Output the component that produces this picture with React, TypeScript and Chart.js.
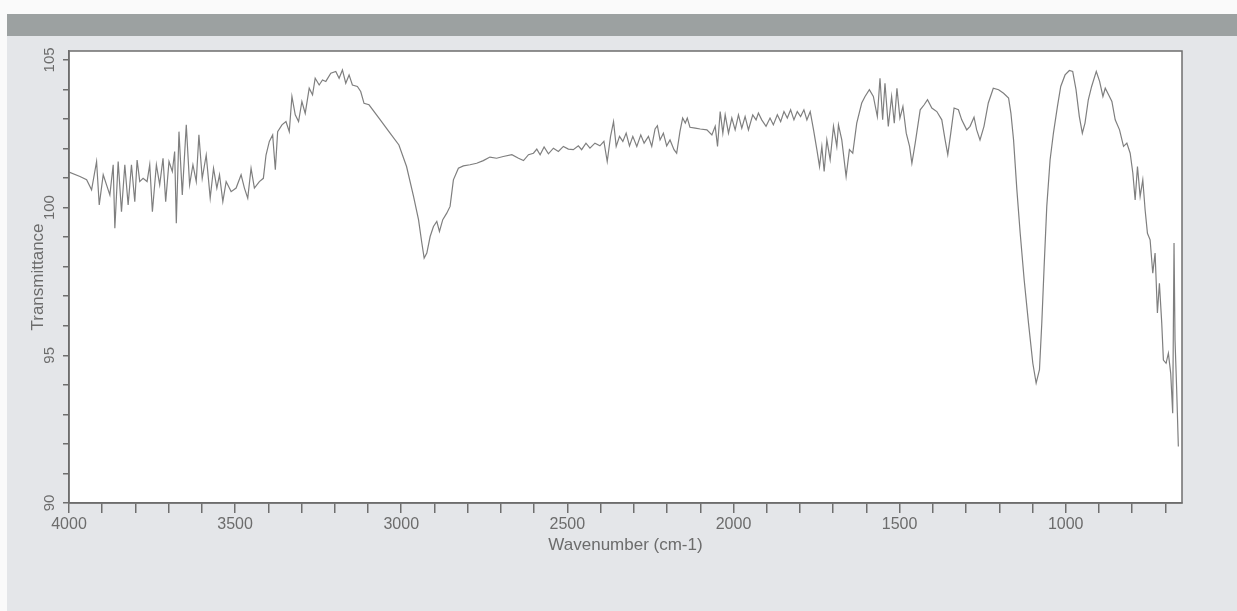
import React, { useEffect, useRef } from "react";
import { Chart, registerables } from "chart.js";

Chart.register(...registerables);

const wavenumbers: number[] = [
  4000, 3967, 3947, 3932, 3917, 3909, 3897, 3887, 3877, 3867, 3862, 3852, 3842, 3832, 3822, 3812, 3802, 3795,
  3787, 3777, 3765, 3757, 3749, 3737, 3727, 3717, 3709, 3699, 3689, 3682, 3677, 3669, 3659, 3647, 3637, 3627,
  3617, 3609, 3599, 3587, 3575, 3565, 3555, 3547, 3537, 3527, 3512, 3497, 3482, 3472, 3462, 3452, 3442, 3427,
  3415, 3407, 3397, 3387, 3379, 3372, 3359, 3347, 3337, 3329, 3319, 3309, 3299, 3289, 3277, 3267, 3259, 3247,
  3237, 3227, 3212, 3197, 3187, 3177, 3167, 3157, 3147, 3132, 3122, 3112, 3097, 3067, 3037, 3007,
  2984, 2963, 2948, 2938, 2931, 2923, 2913, 2903, 2893, 2885, 2875, 2863, 2853, 2843, 2828, 2813, 2793, 2773,
  2753, 2733, 2713, 2693, 2667, 2647, 2632, 2617, 2602, 2592, 2582, 2570, 2557, 2542, 2527, 2512, 2497, 2482,
  2467, 2457, 2444, 2432, 2417, 2402, 2390, 2380, 2370, 2361, 2353, 2343, 2333, 2323, 2313, 2303, 2291, 2279,
  2269, 2256, 2246, 2236, 2229, 2221, 2211, 2201, 2191, 2179, 2171, 2161, 2153, 2145, 2139, 2131, 2115, 2100,
  2080, 2065, 2055, 2048, 2040, 2032, 2025, 2015, 2005, 1995, 1985, 1975, 1965, 1955, 1942, 1932, 1925, 1915,
  1902, 1890, 1880, 1868, 1858, 1848, 1838, 1828, 1818, 1808, 1798, 1788, 1779, 1769, 1759, 1749,
  1741, 1734, 1727, 1719, 1709, 1699, 1689, 1684, 1674, 1661, 1651, 1641, 1629, 1614, 1604, 1591, 1579, 1567,
  1559, 1551, 1544, 1534, 1524, 1516, 1508, 1499, 1490, 1480, 1470, 1463, 1453, 1438, 1426, 1416, 1403, 1388,
  1373, 1363, 1355, 1346, 1336, 1323, 1313, 1298, 1288, 1276, 1268, 1258, 1246, 1233, 1218, 1202, 1187, 1172,
  1165, 1157, 1147, 1137, 1125, 1112, 1099, 1089, 1079, 1072, 1065, 1057, 1047, 1037, 1025, 1015, 1002, 989,
  979, 969, 959, 950, 942, 932, 922, 908, 898, 888, 881, 871, 861, 851, 838, 826, 816, 806, 798, 791, 784, 776,
  768, 761, 754, 746, 738, 731, 724, 718, 711, 706, 698, 691, 684, 678, 674, 671, 666, 661,
];

const transmittance: number[] = [
  101.2, 101.05, 100.94, 100.6, 101.56, 100.09, 101.11, 100.77, 100.43, 101.45, 99.3, 101.56, 99.86, 101.45, 100.09, 101.45, 100.2, 101.61,
  100.88, 100.99, 100.88, 101.45, 99.86, 101.45, 100.77, 101.67, 100.2, 101.56, 101.22, 101.9, 99.47, 102.57, 100.43, 102.8, 100.77, 101.45,
  100.88, 102.46, 100.99, 101.78, 100.32, 101.33, 100.66, 101.11, 100.2, 100.88, 100.54, 100.66, 101.11, 100.66, 100.32, 101.33, 100.66, 100.88,
  100.99, 101.78, 102.24, 102.46, 101.28, 102.57, 102.8, 102.91, 102.57, 103.76, 103.14, 102.91, 103.59, 103.19, 104.04, 103.82, 104.38, 104.15,
  104.32, 104.27, 104.55, 104.61, 104.38, 104.66, 104.21, 104.49, 104.15, 104.1, 103.93, 103.53, 103.48, 103.03, 102.57, 102.12,
  101.39, 100.38, 99.59, 98.8, 98.29, 98.46, 99.02, 99.36, 99.53, 99.19, 99.59, 99.81, 100.04, 100.94, 101.33, 101.41, 101.45, 101.5,
  101.59, 101.71, 101.67, 101.73, 101.79, 101.67, 101.59, 101.79, 101.84, 101.98, 101.79, 102.05, 101.82, 102.01, 101.9, 102.07, 101.98, 101.96,
  102.09, 101.96, 102.18, 102.01, 102.18, 102.09, 102.24, 101.56, 102.41, 102.91, 102.07, 102.41, 102.24, 102.52, 102.09, 102.41, 102.07, 102.46,
  102.18, 102.41, 102.07, 102.66, 102.77, 102.29, 102.52, 102.09, 102.29, 101.96, 101.84, 102.58, 103.03, 102.86, 103.03, 102.72, 102.69, 102.66,
  102.63, 102.46, 102.75, 102.07, 103.25, 102.52, 103.14, 102.52, 103.03, 102.63, 103.14, 102.69, 103.08, 102.63, 103.14, 102.97, 103.2, 102.97,
  102.75, 103.03, 102.8, 103.14, 102.91, 103.25, 103.03, 103.31, 102.97, 103.25, 103.08, 103.31, 102.97, 103.25, 102.63, 101.96,
  101.39, 102.07, 101.22, 102.29, 101.62, 102.75, 102.07, 102.8, 102.29, 101.05, 101.96, 101.84, 102.86, 103.54, 103.76, 103.99, 103.76, 103.08,
  104.38, 102.97, 104.21, 102.75, 103.76, 102.86, 104.04, 103.03, 103.42, 102.52, 102.07, 101.5, 102.18, 103.31, 103.48, 103.65, 103.37, 103.25,
  102.97, 102.29, 101.79, 102.52, 103.37, 103.31, 102.97, 102.63, 102.75, 103.06, 102.63, 102.29, 102.75, 103.54, 104.04, 103.99, 103.87, 103.71,
  103.2, 102.29, 100.6, 99.13, 97.55, 96.09, 94.73, 94.06, 94.51, 96.09, 98.0, 100.04, 101.62, 102.52, 103.42, 104.1, 104.49, 104.64,
  104.61, 103.99, 103.08, 102.52, 102.86, 103.65, 104.1, 104.61, 104.27, 103.76, 104.04, 103.82, 103.59, 102.97, 102.63, 102.07, 102.18, 101.84, 101.17, 100.26, 101.39, 100.38,
  100.94, 99.92, 99.13, 98.91, 97.78, 98.46, 96.43, 97.44, 96.09, 94.84, 94.73, 95.07, 94.39, 93.04, 98.8, 95.52, 93.83, 91.91,
];

const xTickValues: number[] = [
  4000, 3900, 3800, 3700, 3600, 3500, 3400, 3300, 3200, 3100, 3000, 2900, 2800, 2700, 2600, 2500, 2400, 2300,
  2200, 2100, 2000, 1900, 1800, 1700, 1600, 1500, 1400, 1300, 1200, 1100, 1000, 900, 800, 700,
];
const xLabelValues: number[] = [4000, 3500, 3000, 2500, 2000, 1500, 1000];
const yTickValues: number[] = [90, 91, 92, 93, 94, 95, 96, 97, 98, 99, 100, 101, 102, 103, 104, 105];
const yLabelValues: number[] = [90, 95, 100, 105];

const FONT = "'Liberation Sans', Arial, sans-serif";
const TEXT = "#6c6c6c";
const AXIS = "#6e6e6e";

export default function App() {
  const ref = useRef<HTMLCanvasElement | null>(null);

  useEffect(() => {
    if (!ref.current) return;

    const background = {
      id: "paper",
      beforeDraw(chart: any) {
        const { ctx, width, height, chartArea: a } = chart;
        ctx.save();
        ctx.fillStyle = "#e4e6e9";
        ctx.fillRect(0, 0, width, height);
        ctx.fillStyle = "#fafafa";
        ctx.fillRect(0, 0, width, 14);
        ctx.fillRect(0, 0, 7, height);
        ctx.fillStyle = "#9ca1a1";
        ctx.fillRect(7, 14, width - 7, 22);
        ctx.fillStyle = "#ffffff";
        ctx.fillRect(a.left, a.top, a.right - a.left, a.bottom - a.top);
        ctx.restore();
      },
    };

    const frame = {
      id: "frame",
      afterDraw(chart: any) {
        const { ctx, chartArea: a } = chart;
        ctx.save();
        ctx.strokeStyle = AXIS;
        ctx.lineWidth = 1.5;
        ctx.strokeRect(a.left, a.top, a.right - a.left, a.bottom - a.top);
        ctx.restore();
      },
    };

    const points = wavenumbers.map((w, i) => ({ x: w, y: transmittance[i] }));

    const chart = new Chart(ref.current, {
      type: "line",
      data: {
        datasets: [
          {
            data: points,
            borderColor: "#7f7f7f",
            borderWidth: 1.2,
            pointRadius: 0,
            tension: 0,
            fill: false,
          },
        ],
      },
      options: {
        animation: false,
        responsive: false,
        layout: { padding: { left: 28, top: 51, right: 55, bottom: 55 } },
        plugins: { legend: { display: false }, tooltip: { enabled: false } },
        scales: {
          x: {
            type: "linear",
            reverse: true,
            min: 650,
            max: 4000,
            afterBuildTicks: (s: any) => {
              s.ticks = xTickValues.map((v) => ({ value: v }));
            },
            afterFit: (s: any) => {
              s.height = 53;
            },
            ticks: {
              autoSkip: false,
              maxRotation: 0,
              minRotation: 0,
              padding: 2,
              color: TEXT,
              font: { family: FONT, size: 16 },
              callback: (v: any) => (xLabelValues.includes(Number(v)) ? String(v) : ""),
            },
            grid: { drawOnChartArea: false, drawTicks: true, tickLength: 10, color: AXIS, lineWidth: 1.5 },
            border: { color: AXIS, width: 1.5 },
            title: {
              display: true,
              text: "Wavenumber (cm-1)",
              color: TEXT,
              font: { family: FONT, size: 17 },
              padding: 0,
            },
          },
          y: {
            type: "linear",
            min: 90,
            max: 105.3,
            afterBuildTicks: (s: any) => {
              s.ticks = yTickValues.map((v) => ({ value: v }));
            },
            afterFit: (s: any) => {
              s.width = 41;
            },
            ticks: {
              autoSkip: false,
              minRotation: 90,
              maxRotation: 90,
              crossAlign: "center",
              padding: 1,
              color: TEXT,
              font: { family: FONT, size: 15 },
              callback: (v: any) => (yLabelValues.includes(Number(v)) ? String(v) : ""),
            },
            grid: { drawOnChartArea: false, drawTicks: true, tickLength: 6, color: AXIS, lineWidth: 1.5 },
            border: { color: AXIS, width: 1.5 },
            title: {
              display: true,
              text: "Transmittance",
              color: TEXT,
              font: { family: FONT, size: 17 },
              padding: 0,
            },
          },
        },
      },
      plugins: [background, frame],
    });

    return () => chart.destroy();
  }, []);

  return (
    <div style={{ position: "absolute", left: 0, top: 0, width: 1237, height: 611 }}>
      <canvas ref={ref} width={1237} height={611} style={{ display: "block" }} />
    </div>
  );
}
